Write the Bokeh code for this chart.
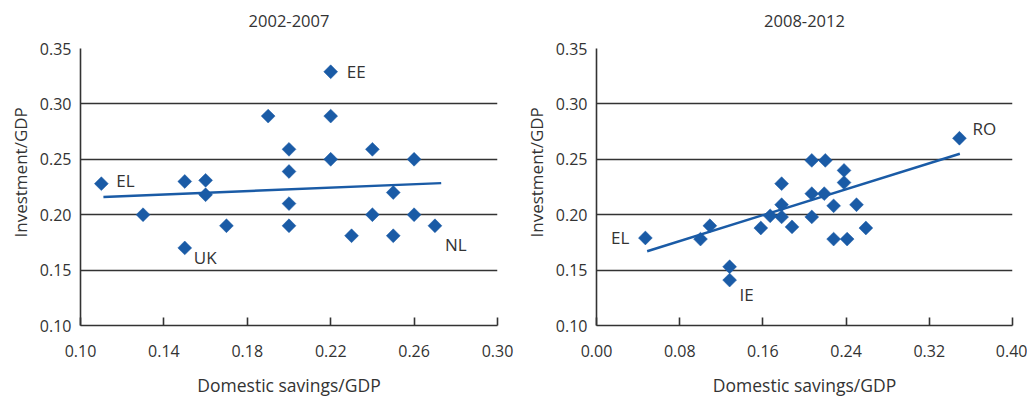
from bokeh.plotting import figure
from bokeh.layouts import row
from bokeh.models import (Range1d, FixedTicker, Title, ColumnDataSource,
                          NumeralTickFormatter, LinearAxis)
from bokeh.core.properties import value
from bokeh.embed import file_html
from bokeh.resources import INLINE
import numpy as np

# ---------------- data ----------------
panel_titles = ["2002-2007", "2008-2012"]
x_axis_label = "Domestic savings/GDP"
y_axis_label = "Investment/GDP"

# Panel 1: 2002-2007
sav_0207 = [0.11, 0.13, 0.15, 0.15, 0.16, 0.16, 0.17, 0.19, 0.20, 0.20, 0.20, 0.20,
            0.22, 0.22, 0.22, 0.23, 0.24, 0.24, 0.25, 0.25, 0.26, 0.26, 0.27]
inv_0207 = [0.228, 0.20, 0.23, 0.17, 0.231, 0.218, 0.19, 0.289, 0.259, 0.239, 0.21, 0.19,
            0.329, 0.289, 0.25, 0.181, 0.259, 0.20, 0.22, 0.181, 0.25, 0.20, 0.19]
names_0207 = ["EL", "EE", "UK", "NL"]
name_idx_0207 = [0, 12, 3, 22]
trend_x_0207 = [0.111, 0.273]
trend_y_0207 = [0.216, 0.2285]

# Panel 2: 2008-2012
sav_0812 = [0.047, 0.100, 0.109, 0.128, 0.128, 0.158, 0.167, 0.178, 0.178, 0.178, 0.188,
            0.207, 0.207, 0.207, 0.220, 0.219, 0.228, 0.228, 0.238, 0.238, 0.241, 0.250,
            0.259, 0.349]
inv_0812 = [0.179, 0.178, 0.19, 0.153, 0.141, 0.188, 0.199, 0.228, 0.209, 0.198, 0.189,
            0.249, 0.219, 0.198, 0.249, 0.219, 0.208, 0.178, 0.240, 0.229, 0.178, 0.209,
            0.188, 0.269]
names_0812 = ["EL", "IE", "RO"]
name_idx_0812 = [0, 4, 23]
trend_x_0812 = [0.0487, 0.3494]
trend_y_0812 = [0.167, 0.255]

x_ticks_0207 = [0.10, 0.14, 0.18, 0.22, 0.26, 0.30]
x_ticks_0812 = [0.00, 0.08, 0.16, 0.24, 0.32, 0.40]
y_ticks = [0.10, 0.15, 0.20, 0.25, 0.30, 0.35]

# ---------------- style ----------------
BLUE = "#1a5ba6"
INK = "#333333"
FONT = "Open Sans"


def make_panel(title, xs, ys, names, idx, tx, ty, xr, xticks, label_offsets,
               width, bl, br):
    p = figure(width=width, height=399, output_backend="svg", toolbar_location=None,
               x_range=Range1d(*xr), y_range=Range1d(0.10, 0.35),
               min_border_left=bl, min_border_right=br, min_border_top=48,
               min_border_bottom=74)
    p.outline_line_color = None
    p.background_fill_color = "white"
    p.border_fill_color = "white"

    xa = p.below[0]
    ya = p.left[0]

    # panel title drawn as the label of a bare axis above the frame
    top = LinearAxis(ticker=FixedTicker(ticks=[]), axis_line_color=None,
                     major_tick_in=0, major_tick_out=0, minor_tick_line_color=None,
                     major_label_text_font_size="0px", axis_label=title,
                     axis_label_text_font=FONT, axis_label_text_font_size="16.5px",
                     axis_label_text_font_style="normal", axis_label_text_color=INK,
                     axis_label_standoff=22)
    p.add_layout(top, "above")

    p.xgrid.visible = False
    p.ygrid.ticker = FixedTicker(ticks=y_ticks)
    p.ygrid.grid_line_color = INK
    p.ygrid.grid_line_width = 1.6

    for ax in (xa, ya):
        ax.axis_line_color = INK
        ax.axis_line_width = 1.6
        ax.major_label_text_font = FONT
        ax.major_label_text_font_size = "16px"
        ax.major_label_text_color = INK
        ax.minor_tick_line_color = None
        ax.formatter = NumeralTickFormatter(format="0.00")

    xa.ticker = FixedTicker(ticks=xticks)
    xa.major_tick_in = 8
    xa.major_tick_out = 0
    xa.major_tick_line_color = INK
    xa.major_tick_line_width = 1.6
    xa.major_label_standoff = 19
    xa.axis_label = x_axis_label
    xa.axis_label_text_font = FONT
    xa.axis_label_text_font_size = "17.5px"
    xa.axis_label_text_font_style = "normal"
    xa.axis_label_text_color = INK
    xa.axis_label_standoff = 13

    ya.ticker = FixedTicker(ticks=y_ticks)
    ya.major_tick_in = 0
    ya.major_tick_out = 0
    ya.major_tick_line_color = None
    ya.major_label_standoff = 9

    yt = Title(text=y_axis_label, align="left", text_font=FONT, text_font_size="17px",
               text_font_style="normal", text_color=INK, offset=88, standoff=10)
    p.add_layout(yt, "left")

    p.line(tx, ty, line_color=BLUE, line_width=2.4)
    p.scatter(xs, ys, marker="square", angle=np.pi / 4, size=9.8,
              fill_color=BLUE, line_color=BLUE, line_width=0.5)

    src = ColumnDataSource(dict(
        x=[xs[i] for i in idx], y=[ys[i] for i in idx], t=names,
        dx=[o[0] for o in label_offsets], dy=[o[1] for o in label_offsets],
        al=[o[2] for o in label_offsets]))
    p.text(x="x", y="y", text="t", x_offset="dx", y_offset="dy", text_align="al",
           text_baseline="middle", source=src, text_font=value(FONT),
           text_font_size="17px", text_color=INK)
    return p


p1 = make_panel(panel_titles[0], sav_0207, inv_0207, names_0207, name_idx_0207,
                trend_x_0207, trend_y_0207, (0.10, 0.30), x_ticks_0207,
                [(15, -3, "left"), (16, 0, "left"), (9, 10, "left"), (10, 19, "left")],
                515, 80, 18)
p2 = make_panel(panel_titles[1], sav_0812, inv_0812, names_0812, name_idx_0812,
                trend_x_0812, trend_y_0812, (0.0, 0.40), x_ticks_0812,
                [(-16, 0, "right"), (10, 14, "left"), (13, -10, "left")],
                512, 81, 15)

layout = row(p1, p2)
open("out.html", "w").write(file_html(layout, INLINE))
